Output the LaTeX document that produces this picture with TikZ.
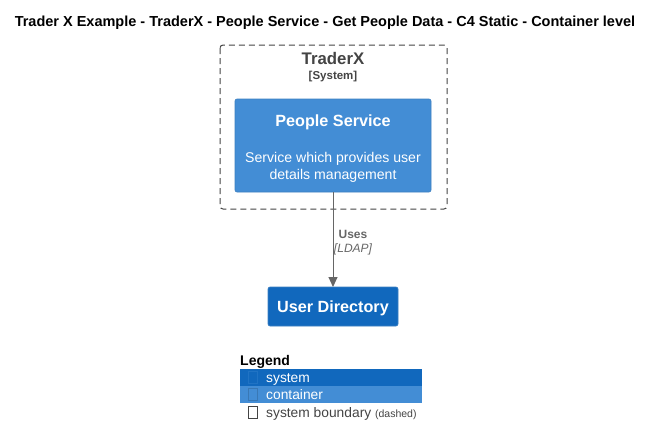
\documentclass[tikz,border=0pt]{standalone}
\usepackage{fontspec}
\setmainfont{Liberation Sans}
\usetikzlibrary{arrows.meta}
\definecolor{sysblue}{HTML}{1168BD}
\definecolor{contblue}{HTML}{438DD5}
\definecolor{contborder}{HTML}{3C7FC0}
\definecolor{sysborder}{HTML}{3C7FC0}
\definecolor{bndgray}{HTML}{444444}
\definecolor{arrgray}{HTML}{666666}
\begin{document}
\begin{tikzpicture}[x=1pt,y=-1pt,
  box/.style={draw, rounded corners=2pt, line width=0.6pt},
  lbl/.style={inner sep=0pt, anchor=base},
  icon/.style={draw, line width=0.6pt}]
\useasboundingbox (0,0) rectangle (658,447);
% title
\node[lbl, font=\bfseries\fontsize{14.5}{16}\selectfont] (title) at (325,26) {Trader X Example - TraderX - People Service - Get People Data - C4 Static - Container level};
% boundary
\draw[bndgray, dash pattern=on 6pt off 4pt, rounded corners=3pt, line width=1pt] (220,45) rectangle (447,209);
\coordinate (bnd) at (333,45);
\node[lbl, text=bndgray, font=\bfseries\fontsize{16.8}{19}\selectfont] (bndname) at (333,64) {TraderX};
\node[lbl, text=bndgray, font=\bfseries\fontsize{11.5}{13}\selectfont] (bndtype) at (333,79) {[System]};
% people service
\draw[box, fill=contblue, draw=contborder] (235,99) rectangle (431,192);
\coordinate (ps) at (333,192);
\node[lbl, text=white, font=\bfseries\fontsize{16.2}{19}\selectfont] (psname) at (333,126) {People Service};
\node[lbl, text=white, font=\fontsize{14.1}{16}\selectfont] (psd1) at (333,162) {Service which provides user};
\node[lbl, text=white, font=\fontsize{14.1}{16}\selectfont] (psd2) at (333,179) {details management};
% user directory
\draw[box, fill=sysblue, draw=sysborder] (268,287) rectangle (398,326);
\coordinate (ud) at (333,287);
\node[lbl, text=white, font=\bfseries\fontsize{16.2}{19}\selectfont] (udname) at (333,312) {User Directory};
% arrow
\draw[arrgray, line width=1pt, -{Triangle[width=9pt,length=10pt]}] (ps) -- (ud);
\node[lbl, text=arrgray, font=\bfseries\fontsize{12}{14}\selectfont] (uses) at (353,238) {Uses};
\node[lbl, text=arrgray, font=\itshape\fontsize{12}{14}\selectfont] (ldap) at (353,252) {[LDAP]};
% legend
\node[lbl, anchor=base west, font=\bfseries\fontsize{14}{16}\selectfont] (leg) at (240,365) {Legend};
\fill[sysblue] (240,369) rectangle (422,386);
\fill[contblue] (240,386) rectangle (422,403);
\draw[icon, draw=sysblue!70!contblue] (248,371) rectangle (257,383);
\draw[icon, draw=contblue!85!black] (248,388) rectangle (257,400);
\draw[icon, draw=bndgray] (248,406) rectangle (257,418);
\node[lbl, anchor=base west, text=white, font=\fontsize{13.8}{16}\selectfont] (l1) at (266,382) {system};
\node[lbl, anchor=base west, text=white, font=\fontsize{13.8}{16}\selectfont] (l2) at (266,399) {container};
\node[lbl, anchor=base west, text=bndgray, font=\fontsize{13.8}{16}\selectfont] (l3) at (266,417) {system boundary {\fontsize{10.5}{12}\selectfont(dashed)}};
\end{tikzpicture}
\end{document}
